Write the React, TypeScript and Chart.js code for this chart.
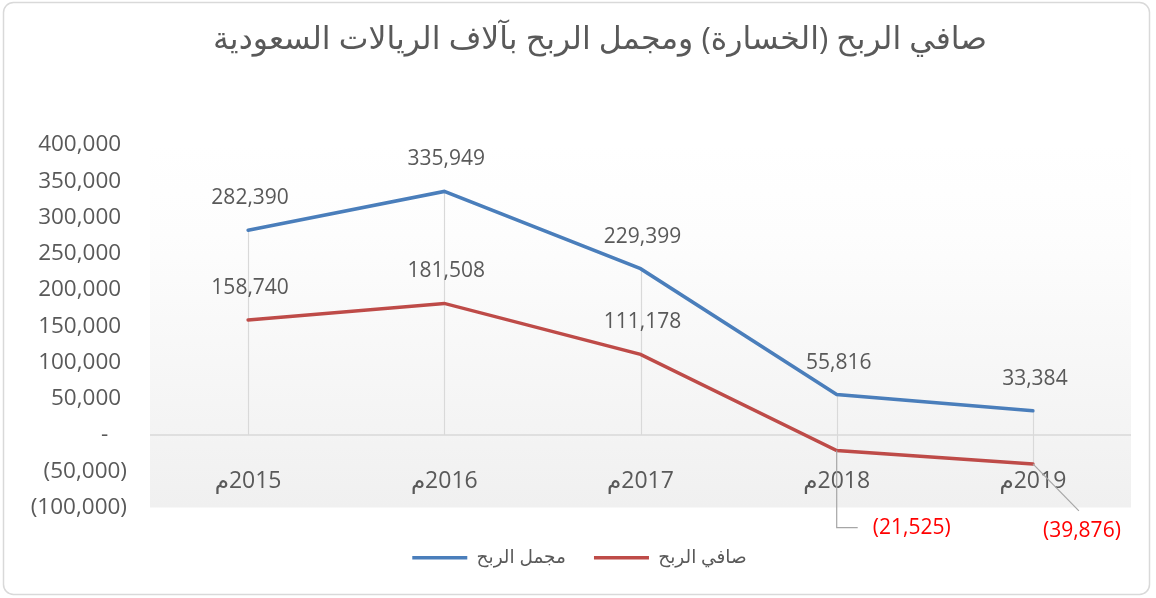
import React, { useEffect, useRef } from "react";
import { Chart, registerables } from "chart.js";

Chart.register(...registerables);

const chartTitle = "صافي الربح (الخسارة) ومجمل الربح بآلاف الريالات السعودية";
const categories = ["2015م", "2016م", "2017م", "2018م", "2019م"];
const grossLabel = "مجمل الربح";
const netLabel = "صافي الربح";
const grossProfit = [282390, 335949, 229399, 55816, 33384];
const netProfit = [158740, 181508, 111178, -21525, -39876];
const yMin = -100000;
const yMax = 400000;
const yStep = 50000;

const FONT = "'Open Sans', 'DejaVu Sans', sans-serif";
const TEXT = "#595959";
const BLUE = "#4a7ebb";
const RED = "#be4b48";

// label placement offsets (style only) for negative values, keyed by category index
const negOffsets: Record<number, { dx: number; dy: number; elbow: boolean }> = {
  3: { dx: 75, dy: 77, elbow: true },
  4: { dx: 49, dy: 67, elbow: false },
};

function fmt(n: number): string {
  const s = Math.abs(n).toLocaleString("en-US");
  return n < 0 ? `(${s})` : s;
}

const decorPlugin = {
  id: "decor",
  beforeDraw(chart: any) {
    const { ctx, chartArea: a } = chart;
    ctx.save();
    ctx.strokeStyle = "#d9d9d9";
    ctx.lineWidth = 1.5;
    ctx.beginPath();
    (ctx as any).roundRect(3.5, 2.5, 1146, 592, 10);
    ctx.stroke();
    const g = ctx.createLinearGradient(0, a.top, 0, a.bottom);
    g.addColorStop(0, "#ffffff");
    g.addColorStop(0.25, "#fdfdfd");
    g.addColorStop(1, "#f0f0f0");
    ctx.fillStyle = g;
    ctx.fillRect(a.left, a.top, a.right - a.left, a.bottom - a.top);
    // chart title
    ctx.fillStyle = TEXT;
    ctx.font = `31.5px ${FONT}`;
    ctx.textAlign = "center";
    ctx.textBaseline = "middle";
    ctx.fillText(chartTitle, 600, 40);
    ctx.restore();
  },
  beforeDatasetsDraw(chart: any) {
    const { ctx, chartArea: a, scales } = chart;
    const x = scales.x;
    const y = scales.y;
    const y0 = y.getPixelForValue(0);
    ctx.save();
    ctx.strokeStyle = "#d9d9d9";
    ctx.lineWidth = 1.2;
    categories.forEach((_, i) => {
      const vals = chart.data.datasets.map((d: any) => d.data[i] as number);
      const hi = Math.max(0, ...vals);
      const lo = Math.min(0, ...vals);
      const px = Math.round(x.getPixelForValue(i)) + 0.5;
      ctx.beginPath();
      ctx.moveTo(px, y.getPixelForValue(hi));
      ctx.lineTo(px, y.getPixelForValue(lo));
      ctx.stroke();
    });
    ctx.lineWidth = 1.5;
    ctx.beginPath();
    ctx.moveTo(a.left, y0);
    ctx.lineTo(a.right, y0);
    ctx.stroke();
    ctx.fillStyle = TEXT;
    ctx.font = `23px ${FONT}`;
    ctx.textAlign = "center";
    ctx.textBaseline = "middle";
    (ctx as any).direction = "rtl";
    categories.forEach((c, i) => {
      ctx.fillText(c, x.getPixelForValue(i), y0 + 46);
    });
    ctx.restore();
  },
  afterDatasetsDraw(chart: any) {
    const { ctx } = chart;
    ctx.save();
    ctx.font = `21px ${FONT}`;
    ctx.textAlign = "center";
    ctx.textBaseline = "middle";
    chart.data.datasets.forEach((ds: any, di: number) => {
      const meta = chart.getDatasetMeta(di);
      meta.data.forEach((pt: any, i: number) => {
        const v = ds.data[i] as number;
        if (v >= 0) {
          ctx.fillStyle = TEXT;
          ctx.fillText(fmt(v), pt.x + 2, pt.y - 32);
        } else {
          const o = negOffsets[i] || { dx: 0, dy: 30, elbow: false };
          ctx.strokeStyle = "#a6a6a6";
          ctx.lineWidth = 1.2;
          ctx.beginPath();
          ctx.moveTo(pt.x, pt.y);
          if (o.elbow) {
            ctx.lineTo(pt.x, pt.y + o.dy);
            ctx.lineTo(pt.x + 21, pt.y + o.dy);
          } else {
            ctx.lineTo(pt.x + 46, pt.y + o.dy - 20);
          }
          ctx.stroke();
          ctx.fillStyle = "#ff0000";
          ctx.fillText(fmt(v), pt.x + o.dx, pt.y + o.dy);
        }
      });
    });
    ctx.restore();
  },
};

export default function App() {
  const ref = useRef<HTMLCanvasElement | null>(null);
  useEffect(() => {
    if (!ref.current) return;
    const chart = new Chart(ref.current, {
      type: "line",
      data: {
        labels: categories,
        datasets: [
          {
            label: grossLabel,
            data: grossProfit,
            borderColor: BLUE,
            backgroundColor: BLUE,
            borderWidth: 3.5,
            pointRadius: 0,
            tension: 0,
            borderCapStyle: "round",
          },
          {
            label: netLabel,
            data: netProfit,
            borderColor: RED,
            backgroundColor: RED,
            borderWidth: 3.5,
            pointRadius: 0,
            tension: 0,
            borderCapStyle: "round",
          },
        ],
      },
      options: {
        animation: false,
        responsive: false,
        maintainAspectRatio: false,
        layout: { padding: { left: 28, right: 25, top: 145, bottom: 21 } },
        plugins: {
          title: { display: false },
          legend: {
            position: "bottom",
            labels: {
              color: TEXT,
              font: { family: FONT, size: 18.5 },
              usePointStyle: true,
              pointStyle: "line",
              pointStyleWidth: 55,
              padding: 28,
            },
          },
          tooltip: { enabled: false },
        },
        scales: {
          x: {
            type: "category",
            offset: true,
            grid: { display: false },
            border: { display: false },
            ticks: { display: false },
            afterFit: (s: any) => {
              s.height = 13;
            },
          },
          y: {
            min: yMin,
            max: yMax,
            grid: { display: false, drawTicks: false },
            border: { display: false },
            ticks: {
              stepSize: yStep,
              color: TEXT,
              font: { family: FONT, size: 22.5 },
              padding: 23,
              callback: (v: any) => {
                const n = Number(v);
                if (n === 0) return "-\u2007 ";
                return n < 0 ? fmt(n) : fmt(n) + " ";
              },
            },
            afterFit: (s: any) => {
              s.width = 122;
            },
          },
        },
      },
      plugins: [decorPlugin],
    });
    return () => chart.destroy();
  }, []);
  return (
    <div style={{ position: "absolute", left: 0, top: 0, width: 1156, height: 598 }}>
      <canvas ref={ref} width={1156} height={598} style={{ width: 1156, height: 598 }} />
    </div>
  );
}
